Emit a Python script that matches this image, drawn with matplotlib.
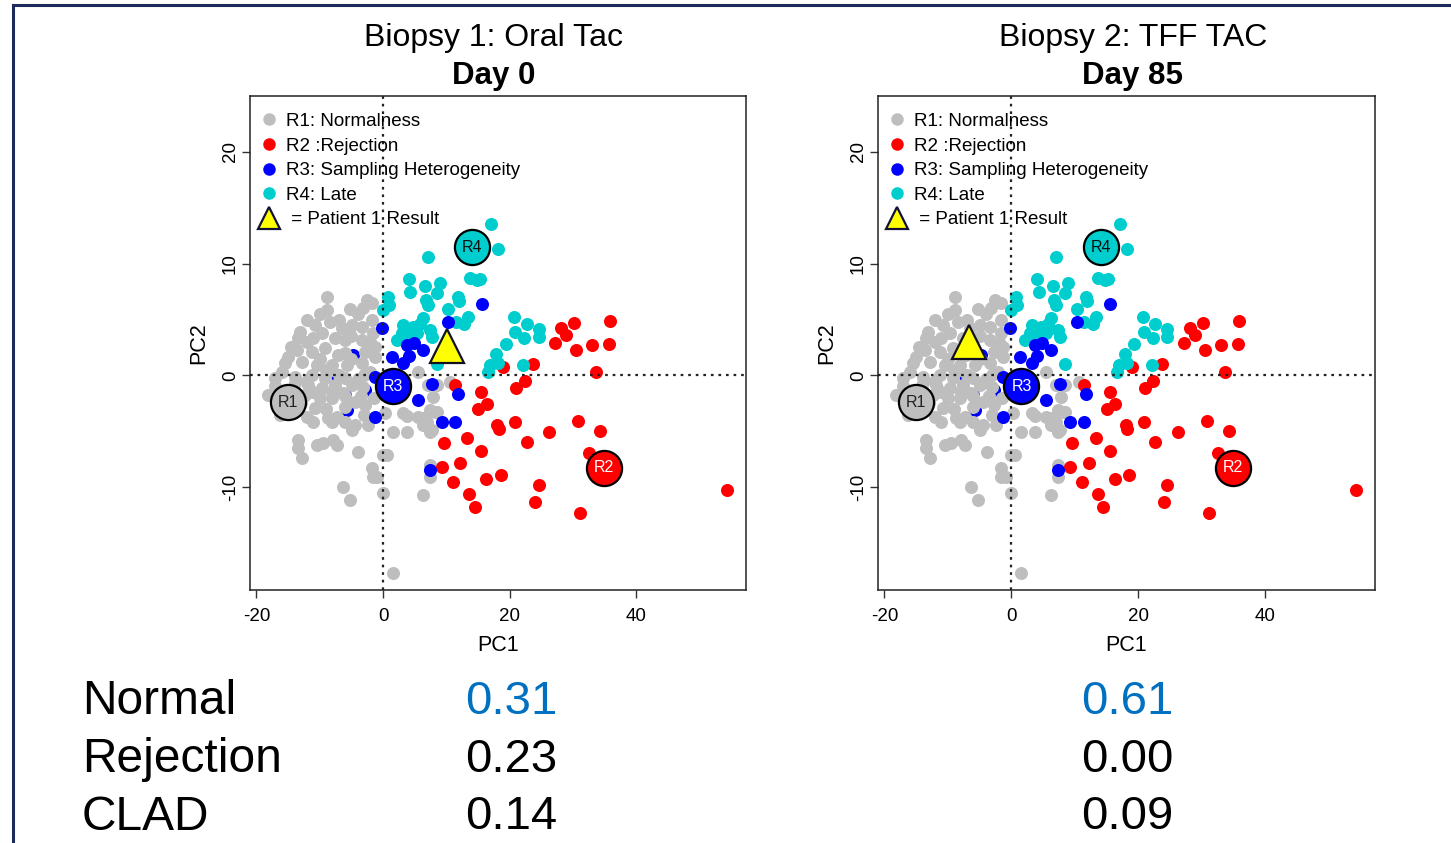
import matplotlib
matplotlib.use('Agg')
import matplotlib.pyplot as plt
from matplotlib.lines import Line2D

plt.rcParams['font.family'] = ['Liberation Sans', 'DejaVu Sans']
plt.rcParams['axes.unicode_minus'] = False

# ---------------- data (PC1, PC2) ----------------
gray_pc1 = [-8.8, -2.5, -1.7, -8.8, -5.2, -3.2, -13.1, -13.4, -10.7, -8.4, -6.5, -4.9, -3.3, -1.6,
            -9.6, -11.1, -7.6, -6.0, -3.3, -1.7, -13.6, -11.2, -9.2, -7.1, -2.8, -1.3, -15.0, -15.5,
            -12.8, -10.4, -8.1, -5.7, -3.3, -2.1, -1.3, -17.1, -13.9, -11.2, -9.2, -6.0, -17.1, -18.2,
            -13.9, -11.8, -10.7, -12.3, -9.6, -7.6, -4.9, -8.1, -4.4, -2.8, -7.3, -8.1, -6.0, -4.4,
            -2.4, -4.9, -16.3, -12.0, -8.7, -13.4, -13.4, -10.4, -9.5, -7.9, -7.3, -12.8, -3.9, -1.7,
            -0.9, -6.3, -5.2, 0.0, 0.0, 1.6, 1.6, 3.8, 3.8, 0.3, 6.3, 7.4, 8.2, 6.3, 7.1, 8.5, 10.6,
            7.9, 3.2, 5.5, 7.0, 7.7, 7.4, 8.5, 0.6, 7.4, 7.4, 6.3, -1.6, 5.5,
            -14.0, -10.0, -6.0, -12.0, -4.0, -9.0, -5.0, -11.0, -16.5, -14.0, -1.5, -3.5,
            -16.0, -14.5, -12.0, -10.0, -7.0, -3.0, -11.0, -8.0, -13.0, -9.0, -3.0, -7.0,
            -4.0, -10.0, -12.0, -2.0, -6.0, -17.0,
            -5.0, -8.2, -6.0, -6.3, -3.1]
gray_pc2 = [6.98, 6.71, 6.45, 5.82, 5.91, 6.00, 3.85, 3.31, 4.48, 4.74, 4.21, 4.48, 4.30, 3.76,
            3.76, 3.31, 3.31, 3.13, 3.13, 4.92, 2.24, 2.06, 2.42, 1.79, 2.06, 1.61, 1.61, 1.07,
            1.16, 0.90, 0.90, 0.90, 1.07, 0.27, 2.51, -0.27, -0.18, 0.0, -0.27, -0.27, -0.98, -1.79,
            -0.72, -0.90, -2.95, -1.79, -1.16, -0.90, -0.90, -2.06, -2.42, -2.69, -3.76, -4.21, -4.21, -4.48,
            -4.48, -4.92, -3.58, -3.76, -3.85, -5.82, -6.45, -6.27, -6.09, -5.82, -6.27, -7.43, -6.89, -8.24,
            -9.13, -9.94, -11.19, -7.16, -10.56, -17.64, -5.10, -5.10, -3.67, -3.40, -4.48, -5.10, -3.31, -3.85,
            -0.90, -0.90, -0.63, -1.97, -3.40, -3.76, -4.21, -4.92, -3.13, -3.31, -7.16, -8.06, -9.13, -10.74,
            -9.13, 0.27,
            -1.5, -2.0, -1.8, -0.5, -0.3, 0.5, 3.5, -4.2, -2.0, -3.2, -2.0, -1.8,
            0.3, 2.5, 3.0, 1.5, 0.0, 0.0, -1.5, -1.5, -2.5, -3.0, -3.5, 5.0,
            5.5, 5.5, 5.0, 3.0, 2.0, -1.5,
            1.5, 0.45, -2.85, -1.55, -1.05]

red_pc1 = [35.9, 30.2, 28.1, 28.9, 27.2, 30.5, 33.0, 35.7, 23.7, 33.6, 19.0, 22.4, 21.0, 15.5,
           11.4, 16.4, 15.0, 18.0, 18.3, 20.9, 26.2, 30.8, 34.3, 32.5, 22.7, 13.3, 9.6, 15.5,
           9.3, 12.2, 18.6, 16.3, 11.1, 13.6, 14.5, 24.6, 24.0, 31.1, 54.3]
red_pc2 = [4.83, 4.66, 4.21, 3.58, 2.86, 2.24, 2.69, 2.78, 0.98, 0.27, 0.72, -0.54, -1.16, -1.52,
           -0.90, -2.60, -3.04, -4.48, -4.83, -4.21, -5.10, -4.12, -5.01, -6.98, -6.00, -5.64, -6.09, -6.80,
           -8.15, -7.88, -8.95, -9.31, -9.58, -10.65, -11.73, -9.85, -11.37, -12.35, -10.21]

cyan_pc1 = [17.1, 18.2, 15.3, 7.1, 13.7, 14.8, 4.1, 4.3, 6.6, 9.0, 8.5, 6.8, 7.1, 0.8, 0.9, 0.0,
            11.8, 12.0, 10.3, 13.4, 12.8, 11.5, 6.3, 5.8, 3.2, 3.0, 3.9, 4.7, 5.4, 7.4, 7.7, 4.6,
            2.2, 3.8, 20.7, 22.7, 24.6, 20.9, 22.3, 24.6, 19.4, 17.9, 18.2, 16.9, 16.6, 22.1, 8.5]
cyan_pc2 = [13.52, 11.28, 8.59, 10.56, 8.68, 8.50, 8.59, 7.43, 7.97, 8.24, 7.34, 6.71, 6.27, 6.98, 6.27, 5.82,
            6.98, 6.62, 5.91, 5.19, 4.57, 4.74, 5.10, 4.57, 4.48, 3.76, 4.03, 4.30, 3.76, 4.03, 3.40, 3.49,
            3.13, 2.86, 5.19, 4.57, 4.12, 3.85, 3.31, 3.40, 2.78, 1.88, 1.07, 0.90, 0.27, 0.90, 0.98]

blue_pc1 = [15.6, 10.3, -0.2, 3.8, 4.9, 6.3, 1.4, 4.1, 3.2, 5.5, 9.3, 11.4, 7.4, -1.3, 11.8, 7.7,
            -1.3, -4.7, -7.9, -5.7, -6.0, -2.8]
blue_pc2 = [6.36, 4.74, 4.21, 2.69, 2.86, 2.24, 1.61, 1.70, 1.07, -2.24, -4.21, -4.21, -8.50, -3.76,
            -1.70, -0.81, -0.18, 1.79, 0.18, -3.13, -1.79, -1.34]
blue_hidden = [False] * 17 + [True] * 5

centroid_labels = ["R1", "R2", "R3", "R4"]
centroid_pc1 = [-15.0, 34.9, 1.6, 14.1]
centroid_pc2 = [-2.42, -8.24, -0.98, 11.46]

panel_titles = ["Biopsy 1: Oral Tac", "Biopsy 2: TFF TAC"]
panel_days = ["Day 0", "Day 85"]
patient_pc1 = [10.1, -6.6]
patient_pc2 = [2.6, 2.95]

legend_labels = ["R1: Normalness", "R2 :Rejection", "R3: Sampling Heterogeneity", "R4: Late",
                 " = Patient 1 Result"]

score_names = ["Normal", "Rejection", "CLAD"]
scores_biopsy1 = ["0.31", "0.23", "0.14"]
scores_biopsy2 = ["0.61", "0.00", "0.09"]

# ---------------- style ----------------
C_GRAY = '#BEBEBE'
C_RED = '#FF0000'
C_BLUE = '#0000FF'
C_CYAN = '#00CDCD'
C_YEL = '#FFFF00'
NAVY = '#1F2A5C'
cent_fill = [C_GRAY, C_RED, C_BLUE, C_CYAN]
cent_text = ['#222222', 'white', 'white', '#111111']

W, H = 1451, 843
fig = plt.figure(figsize=(W / 100, H / 100), dpi=100)

# outer frame (top and left)
fig.add_artist(Line2D([13 / W, 13 / W], [0, 1 - 5 / H], transform=fig.transFigure, color=NAVY, lw=2.2))
fig.add_artist(Line2D([13 / W, 1], [1 - 5 / H, 1 - 5 / H], transform=fig.transFigure, color=NAVY, lw=2.2))


def add_axes_px(l, t, r, b):
    return fig.add_axes([l / W, 1 - b / H, (r - l) / W, (b - t) / H])


panels = [(250, 96, 746, 590), (878, 96, 1375, 590)]
title_x = [494, 1133]
S = 88

for i, (l, t, r, b) in enumerate(panels):
    ax = add_axes_px(l, t, r, b)
    ax.set_xlim(-21.0, 57.3)
    ax.set_ylim(-19.2, 25.0)

    hx = [x for x, h in zip(blue_pc1, blue_hidden) if h]
    hy = [y for y, h in zip(blue_pc2, blue_hidden) if h]
    vx = [x for x, h in zip(blue_pc1, blue_hidden) if not h]
    vy = [y for y, h in zip(blue_pc2, blue_hidden) if not h]
    ax.scatter(hx, hy, s=S, c=C_BLUE, linewidths=0, zorder=2)
    ax.scatter(gray_pc1, gray_pc2, s=S, c=C_GRAY, linewidths=0, zorder=3)
    ax.scatter(red_pc1, red_pc2, s=S, c=C_RED, linewidths=0, zorder=4)
    ax.scatter(cyan_pc1, cyan_pc2, s=S, c=C_CYAN, linewidths=0, zorder=5)
    ax.scatter(vx, vy, s=S, c=C_BLUE, linewidths=0, zorder=6)

    ax.axvline(0, color='#222222', ls=(0, (1.2, 2.2)), lw=1.6, zorder=7)
    ax.axhline(0, color='#222222', ls=(0, (1.2, 2.2)), lw=1.6, zorder=7)

    for k in range(4):
        ax.scatter([centroid_pc1[k]], [centroid_pc2[k]], s=640, c=cent_fill[k],
                   edgecolors='black', linewidths=1.6, zorder=8)
        ax.text(centroid_pc1[k], centroid_pc2[k], centroid_labels[k], ha='center', va='center',
                fontsize=11.5, color=cent_text[k], zorder=9)

    ax.plot([patient_pc1[i]], [patient_pc2[i]], marker='^', ms=25, mfc=C_YEL, mec='#111122',
            mew=1.6, ls='none', zorder=10)

    handles = [Line2D([], [], marker='o', ls='none', ms=9, mfc=c, mec='none')
               for c in [C_GRAY, C_RED, C_BLUE, C_CYAN]]
    handles.append(Line2D([], [], marker='^', ls='none', ms=16, mfc=C_YEL, mec='#111133', mew=1.6))
    leg = ax.legend(handles, legend_labels, loc='upper left', bbox_to_anchor=(-0.018, 1.0),
                    frameon=False, fontsize=13.5,
                    handletextpad=0.3, labelspacing=0.40, borderaxespad=0.6, handlelength=1.2,
                    borderpad=0.3)
    leg.set_zorder(11)

    ax.set_xticks([-20, 0, 20, 40])
    ax.set_yticks([-10, 0, 10, 20])
    ax.tick_params(axis='both', labelsize=13.5, length=6, width=1, direction='out', color='#333333')
    ax.tick_params(axis='x', pad=7)
    ax.tick_params(axis='y', pad=2)
    for lab in ax.get_yticklabels():
        lab.set_rotation(90)
        lab.set_va('center')
    ax.set_xlabel('PC1', fontsize=15.5, labelpad=7)
    ax.set_ylabel('PC2', fontsize=15.5, labelpad=9)
    for sp in ax.spines.values():
        sp.set_linewidth(1.1)
        sp.set_color('#222222')

    fig.text(title_x[i] / W, 1 - 38 / H, panel_titles[i], ha='center', va='center', fontsize=23)
    fig.text(title_x[i] / W, 1 - 76 / H, panel_days[i], ha='center', va='center', fontsize=22.5,
             fontweight='bold')

rows_y = [702, 760, 817]
val_colors = ['#0070C0', 'black', 'black']
for j in range(3):
    fig.text(82 / W, 1 - rows_y[j] / H, score_names[j], ha='left', va='center', fontsize=34.5)
    fig.text(465 / W, 1 - rows_y[j] / H, scores_biopsy1[j], ha='left', va='center', fontsize=34,
             color=val_colors[j])
    fig.text(1081 / W, 1 - rows_y[j] / H, scores_biopsy2[j], ha='left', va='center', fontsize=34,
             color=val_colors[j])

fig.savefig('out.png', dpi=100)
